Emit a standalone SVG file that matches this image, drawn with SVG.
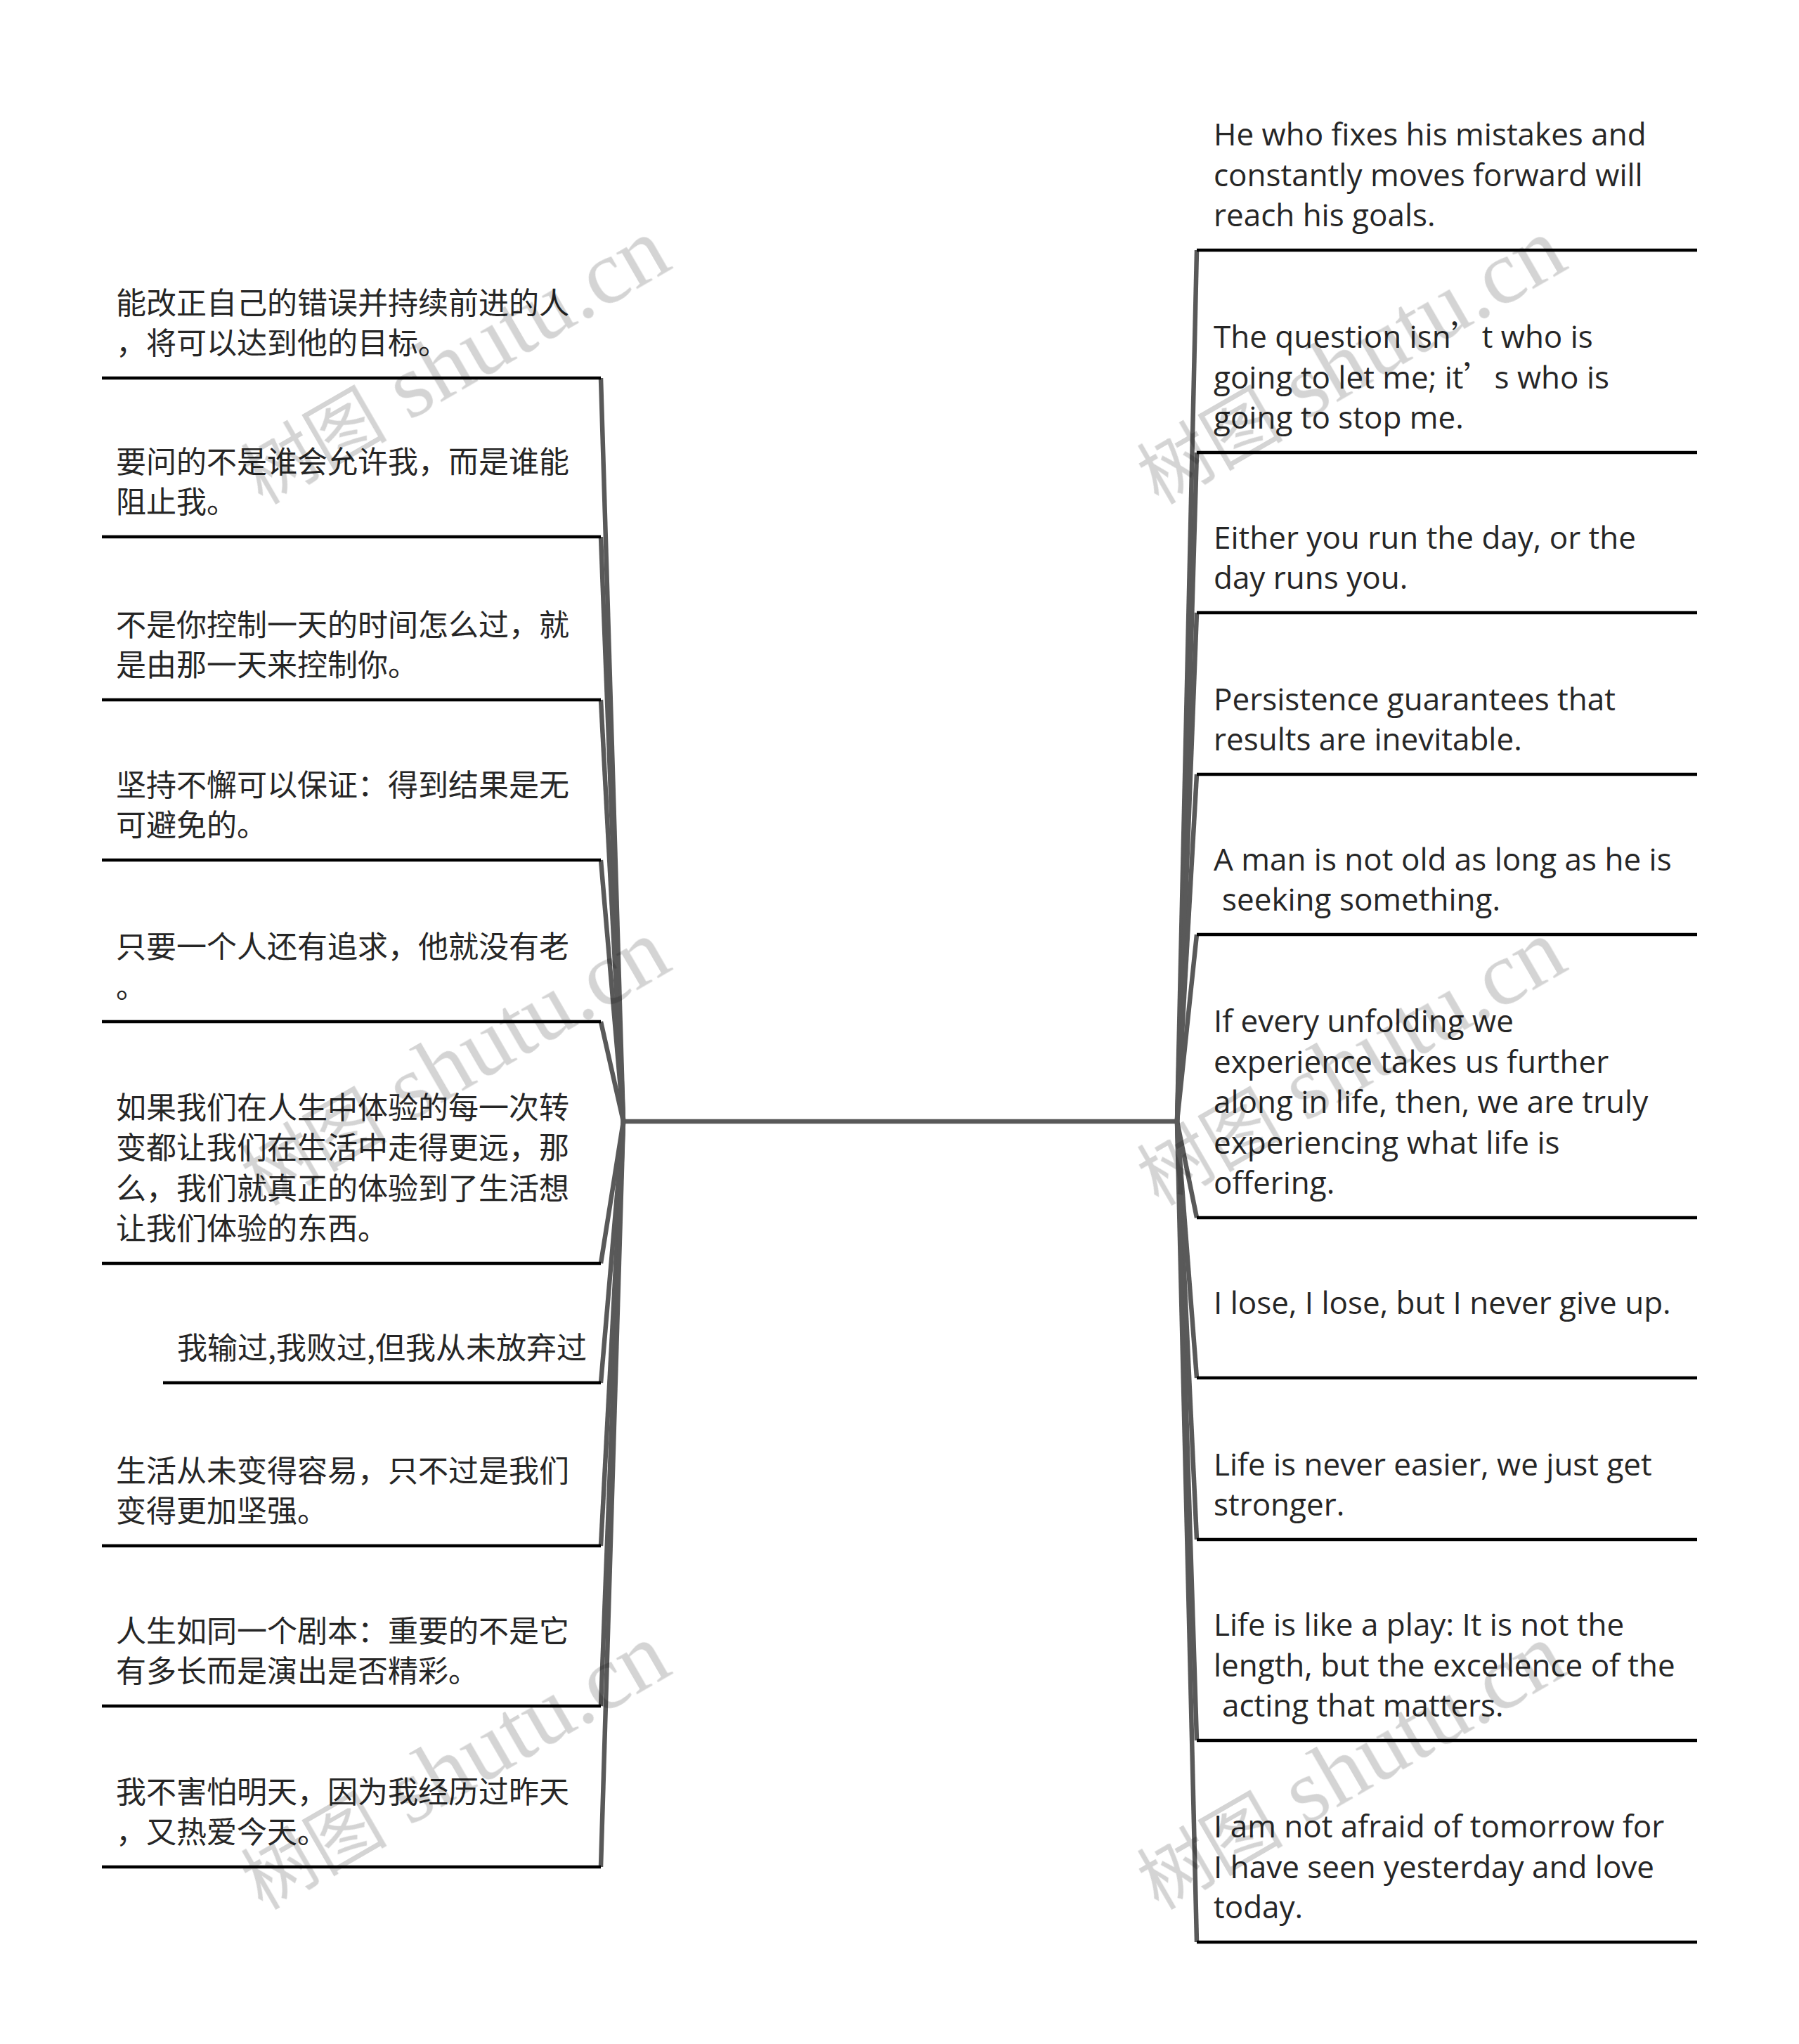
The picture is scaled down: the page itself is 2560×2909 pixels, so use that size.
<svg xmlns="http://www.w3.org/2000/svg" width="2560" height="2909" viewBox="0 0 2560 2909">
<style>
.u{stroke:#000;stroke-width:4.5;fill:none}
.c{stroke:#595959;stroke-width:6.5;fill:none;stroke-linecap:butt}
.zh{font-family:"Noto Sans CJK SC","Noto Sans CJK TC",sans-serif;font-size:43px;fill:#262626}
.en{font-family:"Open Sans","Noto Sans CJK SC",sans-serif;font-size:44px;fill:#262626}
.fw{font-family:"Noto Sans CJK SC",sans-serif}
.wm{opacity:0.17;fill:#000}
.wz{font-family:"Noto Sans CJK SC",sans-serif;font-size:104px}
.wl{font-family:"Liberation Serif",serif;font-size:130px}
</style>
<rect x="0" y="0" width="2560" height="2909" fill="#fff"/>
<g id="connectors">
<line class="c" x1="887" y1="1596" x2="1675" y2="1596"/>
<line class="c" x1="887" y1="1596" x2="855" y2="538"/>
<line class="c" x1="887" y1="1596" x2="855" y2="764"/>
<line class="c" x1="887" y1="1596" x2="855" y2="996"/>
<line class="c" x1="887" y1="1596" x2="855" y2="1224"/>
<line class="c" x1="887" y1="1596" x2="855" y2="1454"/>
<line class="c" x1="887" y1="1596" x2="855" y2="1798"/>
<line class="c" x1="887" y1="1596" x2="855" y2="1968"/>
<line class="c" x1="887" y1="1596" x2="855" y2="2200"/>
<line class="c" x1="887" y1="1596" x2="855" y2="2428"/>
<line class="c" x1="887" y1="1596" x2="855" y2="2657"/>
<line class="c" x1="1675" y1="1596" x2="1703" y2="356"/>
<line class="c" x1="1675" y1="1596" x2="1703" y2="644"/>
<line class="c" x1="1675" y1="1596" x2="1703" y2="872"/>
<line class="c" x1="1675" y1="1596" x2="1703" y2="1102"/>
<line class="c" x1="1675" y1="1596" x2="1703" y2="1330"/>
<line class="c" x1="1675" y1="1596" x2="1703" y2="1733"/>
<line class="c" x1="1675" y1="1596" x2="1703" y2="1961"/>
<line class="c" x1="1675" y1="1596" x2="1703" y2="2191"/>
<line class="c" x1="1675" y1="1596" x2="1703" y2="2477"/>
<line class="c" x1="1675" y1="1596" x2="1703" y2="2764"/>
</g>
<g id="L1"><line class="u" x1="145" y1="538" x2="855" y2="538"/><text class="zh" x="165" y="446.5">能改正自己的错误并持续前进的人</text><text class="zh" x="165" y="504">，将可以达到他的目标。</text></g>
<g id="L2"><line class="u" x1="145" y1="764" x2="855" y2="764"/><text class="zh" x="165" y="672.5">要问的不是谁会允许我，而是谁能</text><text class="zh" x="165" y="730">阻止我。</text></g>
<g id="L3"><line class="u" x1="145" y1="996" x2="855" y2="996"/><text class="zh" x="165" y="904.5">不是你控制一天的时间怎么过，就</text><text class="zh" x="165" y="962">是由那一天来控制你。</text></g>
<g id="L4"><line class="u" x1="145" y1="1224" x2="855" y2="1224"/><text class="zh" x="165" y="1132.5">坚持不懈可以保证：得到结果是无</text><text class="zh" x="165" y="1190">可避免的。</text></g>
<g id="L5"><line class="u" x1="145" y1="1454" x2="855" y2="1454"/><text class="zh" x="165" y="1362.5">只要一个人还有追求，他就没有老</text><text class="zh" x="165" y="1420">。</text></g>
<g id="L6"><line class="u" x1="145" y1="1798" x2="855" y2="1798"/><text class="zh" x="165" y="1591.5">如果我们在人生中体验的每一次转</text><text class="zh" x="165" y="1649">变都让我们在生活中走得更远，那</text><text class="zh" x="165" y="1706.5">么，我们就真正的体验到了生活想</text><text class="zh" x="165" y="1764">让我们体验的东西。</text></g>
<g id="L7"><line class="u" x1="232" y1="1968" x2="855" y2="1968"/><text class="zh" x="252" y="1934">我输过,我败过,但我从未放弃过</text></g>
<g id="L8"><line class="u" x1="145" y1="2200" x2="855" y2="2200"/><text class="zh" x="165" y="2108.5">生活从未变得容易，只不过是我们</text><text class="zh" x="165" y="2166">变得更加坚强。</text></g>
<g id="L9"><line class="u" x1="145" y1="2428" x2="855" y2="2428"/><text class="zh" x="165" y="2336.5">人生如同一个剧本：重要的不是它</text><text class="zh" x="165" y="2394">有多长而是演出是否精彩。</text></g>
<g id="L10"><line class="u" x1="145" y1="2657" x2="855" y2="2657"/><text class="zh" x="165" y="2565.5">我不害怕明天，因为我经历过昨天</text><text class="zh" x="165" y="2623">，又热爱今天。</text></g>
<g id="R1"><line class="u" x1="1703" y1="356" x2="2415" y2="356"/><text class="en" x="1727" y="207">He who fixes his mistakes and</text><text class="en" x="1727" y="264.5">constantly moves forward will</text><text class="en" x="1727" y="322">reach his goals.</text></g>
<g id="R2"><line class="u" x1="1703" y1="644" x2="2415" y2="644"/><text class="en" x="1727" y="495">The question isn<tspan class="fw">’</tspan>t who is</text><text class="en" x="1727" y="552.5">going to let me; it<tspan class="fw">’</tspan>s who is</text><text class="en" x="1727" y="610">going to stop me.</text></g>
<g id="R3"><line class="u" x1="1703" y1="872" x2="2415" y2="872"/><text class="en" x="1727" y="780.5">Either you run the day, or the</text><text class="en" x="1727" y="838">day runs you.</text></g>
<g id="R4"><line class="u" x1="1703" y1="1102" x2="2415" y2="1102"/><text class="en" x="1727" y="1010.5">Persistence guarantees that</text><text class="en" x="1727" y="1068">results are inevitable.</text></g>
<g id="R5"><line class="u" x1="1703" y1="1330" x2="2415" y2="1330"/><text class="en" x="1727" y="1238.5">A man is not old as long as he is</text><text class="en" x="1739" y="1296">seeking something.</text></g>
<g id="R6"><line class="u" x1="1703" y1="1733" x2="2415" y2="1733"/><text class="en" x="1727" y="1469">If every unfolding we</text><text class="en" x="1727" y="1526.5">experience takes us further</text><text class="en" x="1727" y="1584">along in life, then, we are truly</text><text class="en" x="1727" y="1641.5">experiencing what life is</text><text class="en" x="1727" y="1699">offering.</text></g>
<g id="R7"><line class="u" x1="1703" y1="1961" x2="2415" y2="1961"/><text class="en" x="1727" y="1869.5">I lose, I lose, but I never give up.</text></g>
<g id="R8"><line class="u" x1="1703" y1="2191" x2="2415" y2="2191"/><text class="en" x="1727" y="2099.5">Life is never easier, we just get</text><text class="en" x="1727" y="2157">stronger.</text></g>
<g id="R9"><line class="u" x1="1703" y1="2477" x2="2415" y2="2477"/><text class="en" x="1727" y="2328">Life is like a play: It is not the</text><text class="en" x="1727" y="2385.5">length, but the excellence of the</text><text class="en" x="1739" y="2443">acting that matters.</text></g>
<g id="R10"><line class="u" x1="1703" y1="2764" x2="2415" y2="2764"/><text class="en" x="1727" y="2615">I am not afraid of tomorrow for</text><text class="en" x="1727" y="2672.5">I have seen yesterday and love</text><text class="en" x="1727" y="2730">today.</text></g>
<g id="watermarks" class="wm">
<text transform="rotate(-30 649 519)" x="649" y="555" text-anchor="middle"><tspan class="wz">树图</tspan><tspan class="wl"> shutu.cn</tspan></text>
<text transform="rotate(-30 1924 519)" x="1924" y="555" text-anchor="middle"><tspan class="wz">树图</tspan><tspan class="wl"> shutu.cn</tspan></text>
<text transform="rotate(-30 649 1517)" x="649" y="1553" text-anchor="middle"><tspan class="wz">树图</tspan><tspan class="wl"> shutu.cn</tspan></text>
<text transform="rotate(-30 1924 1517)" x="1924" y="1553" text-anchor="middle"><tspan class="wz">树图</tspan><tspan class="wl"> shutu.cn</tspan></text>
<text transform="rotate(-30 649 2519)" x="649" y="2555" text-anchor="middle"><tspan class="wz">树图</tspan><tspan class="wl"> shutu.cn</tspan></text>
<text transform="rotate(-30 1924 2519)" x="1924" y="2555" text-anchor="middle"><tspan class="wz">树图</tspan><tspan class="wl"> shutu.cn</tspan></text>
</g>
</svg>
